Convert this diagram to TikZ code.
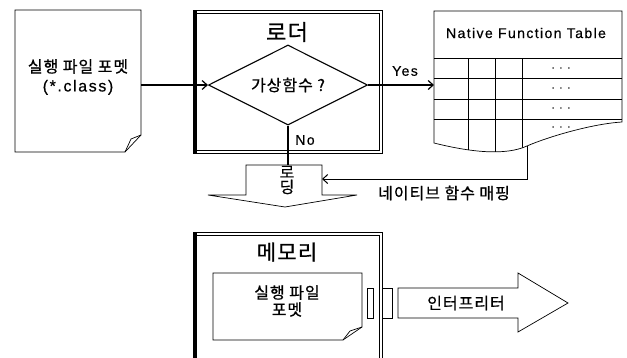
\documentclass[tikz,border=0pt]{standalone}
\usepackage{fontspec}
\setmainfont{Noto Sans CJK KR}[LetterSpace=6,FakeBold=0.7]
\newfontfamily\latinf{Liberation Sans}[LetterSpace=10,FakeBold=0.4]
\usetikzlibrary{arrows.meta,shapes.geometric}
\tikzset{
  thinline/.style={line width=0.7pt},
  conn/.style={line width=1.4pt,-{Straight Barb[length=5pt,width=9pt,line width=1.2pt]}},
  thinconn/.style={line width=0.8pt,-{Straight Barb[length=5pt,width=9pt,line width=1pt]}},
  kr/.style={font=\fontsize{16}{17}\selectfont},
  lat/.style={font=\latinf\fontsize{14}{16}\selectfont},
  dots/.style={font=\latinf\fontsize{10}{12}\selectfont},
}
\begin{document}
\begin{tikzpicture}[x=1pt,y=-1pt]
\useasboundingbox (0,0) rectangle (627,357);
\clip (0,0) rectangle (627,357);
% left document
\draw[thinline] (15,10) -- (141,10) -- (141,135) -- (125,152) -- (15,152) -- cycle;
\draw[thinline] (141,135) -- (131,139) -- (125,152);
\node[kr,align=center] (doc) at (78,77) {실행 파일 포멧\\[2pt]{\latinf (*.class)}};
\coordinate (docE) at (141,85);
% loader frame
\draw[line width=1pt] (193,10) rectangle (382,153);
\draw[line width=0.8pt] (196,13) rectangle (379,150);
\fill (193,10) rectangle (197,153);
\node[font=\fontsize{22}{23}\selectfont] (lt) at (287,32) {로더};
\node[draw,line width=1.1pt,diamond,shape aspect=2,minimum width=159pt,minimum height=80pt,inner sep=0pt,kr] (dia) at (288,85) {가상함수 ?};
\draw[conn] (docE) -- (dia.west);
% table
\coordinate (tw) at (434,85);
\coordinate (tb) at (527,146);
\draw[conn] (dia.east) -- (tw);
\node[lat] (yes) at (405,71) {Yes};
\begin{scope}
\clip (434,143) -- (434,11) -- (622,11) -- (622,122) .. controls (590,124) and (545,138) .. (527,146) .. controls (505,156) and (470,152) .. (434,143) -- cycle;
\foreach \yy in {58,78,99,119} \draw[thinline] (434,\yy) -- (622,\yy);
\foreach \xx in {468,495,522} \draw[thinline] (\xx,58) -- (\xx,170);
\foreach \yy in {68,88,108,127} \node[dots] at (561,\yy) {. . .};
\end{scope}
\draw[thinline] (434,143) -- (434,11) -- (622,11) -- (622,122) .. controls (590,124) and (545,138) .. (527,146) .. controls (505,156) and (470,152) .. (434,143) -- cycle;
\node[lat] (tt) at (526,33) {Native Function Table};
% loading arrow
\draw[thinline] (246,165) -- (322,165) -- (322,195) -- (357,195) -- (285,207) -- (208,195) -- (246,195) -- cycle;
\node[kr,align=center] (load) at (287,180) {로\\[-2pt]딩};
\coordinate (ldtop) at (288,165);
\coordinate (ldE) at (322,179);
\draw[line width=1.4pt] (dia.south) -- (ldtop);
\node[lat] (no) at (305,140) {No};
\draw[thinconn] (tb) |- (ldE);
\node[kr] (map) at (444,193) {네이티브 함수 매핑};
% memory frame
\draw[line width=1pt] (193,232) rectangle (382,370);
\draw[line width=0.8pt] (196,235) rectangle (379,367);
\fill (193,232) rectangle (197,370);
\node[font=\fontsize{21}{22}\selectfont] (mt) at (287,252) {메모리};
\draw[thinline] (213,273) -- (362,273) -- (362,327) -- (343,340) -- (213,340) -- cycle;
\draw[thinline] (362,327) -- (350,331) -- (343,340);
\node[kr,align=center] (mdoc) at (287,301) {실행 파일\\포멧};
\draw[thinline] (367,288) rectangle (373,318);
\draw[thinline] (382,288) rectangle (392,318);
% interpreter arrow
\draw[thinline] (398,288) -- (518,288) -- (518,273) -- (568,303) -- (518,332) -- (518,318) -- (398,318) -- cycle;
\node[kr] (interp) at (466,303) {인터프리터};
\end{tikzpicture}
\end{document}
